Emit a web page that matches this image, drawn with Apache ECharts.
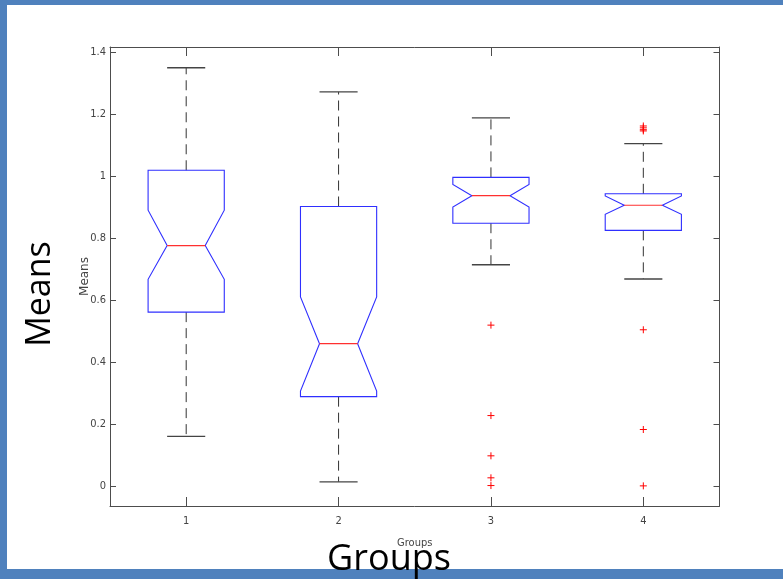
<!DOCTYPE html>
<html>
<head>
<meta charset="utf-8">
<script src="https://cdn.jsdelivr.net/npm/echarts@6/dist/echarts.min.js"></script>
<style>
  html, body { margin: 0; padding: 0; background: #fff; }
  #chart { width: 783px; height: 579px; }
</style>
</head>
<body>
<div id="chart"></div>
<script>
// Group labels on the x axis
var categories = ['1', '2', '3', '4'];
// Y tick values
var yTicks = [0, 0.2, 0.4, 0.6, 0.8, 1.0, 1.2, 1.4];

// Box statistics per group
var whiskerLow  = [0.160, 0.013, 0.714, 0.668];
var q1          = [0.561, 0.288, 0.848, 0.825];
var notchLow    = [0.667, 0.306, 0.900, 0.877];
var medians     = [0.776, 0.459, 0.937, 0.906];
var notchHigh   = [0.890, 0.610, 0.973, 0.936];
var q3          = [1.019, 0.902, 0.996, 0.943];
var whiskerHigh = [1.350, 1.272, 1.188, 1.105];

// Outliers per group
var outliers = [
  [],
  [],
  [0.519, 0.227, 0.097, 0.026, 0.001],
  [1.162, 1.156, 1.150, 1.146, 0.504, 0.182, 0.000]
];

var boxData = categories.map(function (c, i) {
  return [i + 1, whiskerLow[i], q1[i], notchLow[i], medians[i], notchHigh[i], q3[i], whiskerHigh[i]];
});
var outlierData = [];
outliers.forEach(function (list, i) {
  list.forEach(function (v) { outlierData.push([i + 1, v]); });
});

var tickFont = "'Liberation Sans Narrow', 'DejaVu Sans Condensed', sans-serif";
var axisColor = '#4d4d4d';
var halfBox = 0.25;

function renderBox(params, api) {
  var x = api.value(0);
  var wl = api.value(1), lo = api.value(2), nl = api.value(3), md = api.value(4),
      nh = api.value(5), hi = api.value(6), wh = api.value(7);
  function p(dx, v) { return api.coord([x + dx, v]); }
  var w = halfBox, cap = halfBox / 2;
  var outline = [
    p(-w, hi), p(w, hi), p(w, nh), p(w / 2, md), p(w, nl), p(w, lo),
    p(-w, lo), p(-w, nl), p(-w / 2, md), p(-w, nh)
  ];
  var dash = { stroke: '#333', lineWidth: 1, lineDash: [10, 6] };
  var solid = { stroke: '#444', lineWidth: 1.3 };
  function seg(a, b, style) {
    return { type: 'line', shape: { x1: a[0], y1: a[1], x2: b[0], y2: b[1] }, style: style };
  }
  return {
    type: 'group',
    children: [
      seg(p(0, hi), p(0, wh), dash),
      seg(p(0, lo), p(0, wl), dash),
      seg(p(-cap, wh), p(cap, wh), solid),
      seg(p(-cap, wl), p(cap, wl), solid),
      { type: 'polygon', shape: { points: outline }, style: { fill: 'none', stroke: '#2f2fff', lineWidth: 1.1 } },
      seg(p(-w / 2, md), p(w / 2, md), { stroke: '#ff3030', lineWidth: 1.2 })
    ]
  };
}

function renderOutlier(params, api) {
  var c = api.coord([api.value(0), api.value(1)]);
  var r = 3.5;
  var st = { stroke: '#ff0000', lineWidth: 1 };
  return {
    type: 'group',
    children: [
      { type: 'line', shape: { x1: c[0] - r, y1: c[1], x2: c[0] + r, y2: c[1] }, style: st },
      { type: 'line', shape: { x1: c[0], y1: c[1] - r, x2: c[0], y2: c[1] + r }, style: st }
    ]
  };
}

var chart = echarts.init(document.getElementById('chart'), null, { renderer: 'canvas' });

chart.setOption({
  animation: false,
  backgroundColor: '#ffffff',
  grid: { left: 110, right: 63.5, top: 47, bottom: 73, containLabel: false, outerBoundsMode: 'none' },
  xAxis: [{
    type: 'value', position: 'bottom', min: 0.5, max: 4.5,
    name: 'Groups', nameLocation: 'middle', nameGap: 32, nameMoveOverlap: false,
    nameTextStyle: { fontFamily: tickFont, fontSize: 11, color: '#444' },
    axisLine: { show: true, onZero: false, lineStyle: { color: axisColor, width: 1 } },
    axisTick: { show: true, inside: true, length: 9, customValues: [1, 2, 3, 4], lineStyle: { color: axisColor } },
    axisLabel: {
      customValues: [1, 2, 3, 4], margin: 10,
      fontFamily: tickFont, fontSize: 11, color: '#444',
      formatter: function (v) { return categories[Math.round(v) - 1]; }
    },
    splitLine: { show: false }
  }, {
    type: 'value', position: 'top', min: 0.5, max: 4.5,
    axisLine: { show: true, onZero: false, lineStyle: { color: axisColor, width: 1 } },
    axisTick: { show: true, inside: true, length: 9, customValues: [1, 2, 3, 4], lineStyle: { color: axisColor } },
    axisLabel: { show: false },
    splitLine: { show: false }
  }],
  yAxis: [{
    type: 'value', position: 'left', min: -0.065, max: 1.417,
    name: 'Means', nameLocation: 'middle', nameGap: 19, nameMoveOverlap: false,
    nameTextStyle: { fontFamily: "'DejaVu Sans', sans-serif", fontSize: 12, color: '#444' },
    axisLine: { show: true, onZero: false, lineStyle: { color: axisColor, width: 1 } },
    axisTick: { show: true, inside: true, length: 6, customValues: yTicks, lineStyle: { color: axisColor } },
    axisLabel: {
      customValues: yTicks, margin: 4,
      fontFamily: tickFont, fontSize: 11, color: '#444',
      formatter: function (v) { return String(Math.round(v * 10) / 10); }
    },
    splitLine: { show: false }
  }, {
    type: 'value', position: 'right', min: -0.065, max: 1.417,
    axisLine: { show: true, onZero: false, lineStyle: { color: axisColor, width: 1 } },
    axisTick: { show: true, inside: true, length: 6, customValues: yTicks, lineStyle: { color: axisColor } },
    axisLabel: { show: false },
    splitLine: { show: false }
  }],
  series: [{
    type: 'custom',
    name: 'boxes',
    xAxisIndex: 0, yAxisIndex: 0,
    dimensions: ['group', 'wl', 'q1', 'nl', 'median', 'nh', 'q3', 'wh'],
    encode: { x: 0, y: [1, 2, 3, 4, 5, 6, 7] },
    renderItem: renderBox,
    data: boxData,
    z: 2
  }, {
    type: 'custom',
    name: 'outliers',
    xAxisIndex: 0, yAxisIndex: 0,
    encode: { x: 0, y: 1 },
    renderItem: renderOutlier,
    data: outlierData,
    z: 3
  }],
  graphic: [
    { type: 'rect', shape: { x: 0, y: 0, width: 783, height: 5 }, style: { fill: '#4f81bd' }, z: 10 },
    { type: 'rect', shape: { x: 0, y: 0, width: 7, height: 579 }, style: { fill: '#4f81bd' }, z: 10 },
    { type: 'rect', shape: { x: 0, y: 569, width: 783, height: 10 }, style: { fill: '#4f81bd' }, z: 10 },
    {
      type: 'text', x: 40, y: 294, rotation: Math.PI / 2, z: 20,
      style: { text: 'Means', fontFamily: "'Open Sans', sans-serif", fontSize: 34, fill: '#000', align: 'center', verticalAlign: 'middle' }
    },
    {
      type: 'text', x: 389, y: 560, z: 20,
      style: { text: 'Groups', fontFamily: "'Open Sans', sans-serif", fontSize: 36, fill: '#000', align: 'center', verticalAlign: 'middle' }
    }
  ]
});
</script>
</body>
</html>
